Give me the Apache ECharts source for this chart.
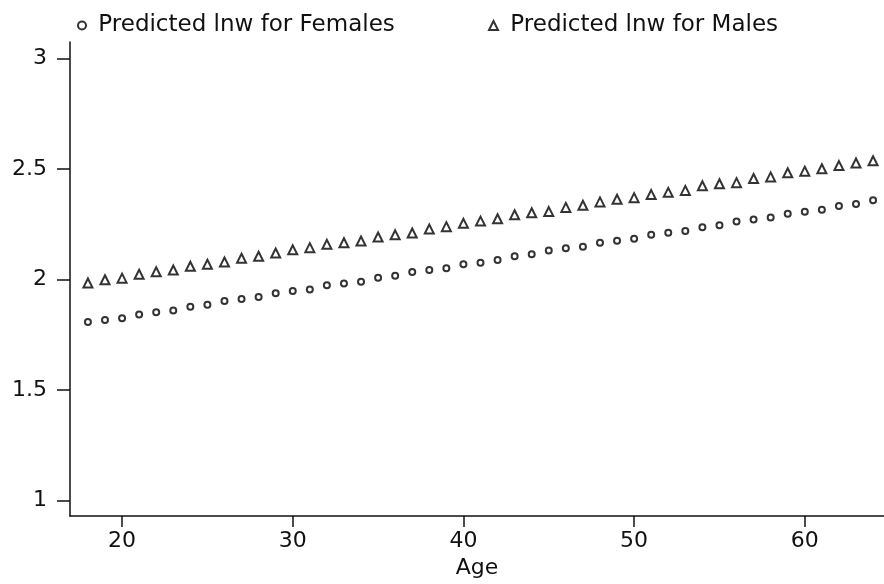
<!DOCTYPE html>
<html>
<head>
<meta charset="utf-8">
<script src="https://cdn.jsdelivr.net/npm/echarts@6/dist/echarts.min.js"></script>
<style>
html,body{margin:0;padding:0;background:#fff;}
#chart{width:884px;height:584px;}
</style>
</head>
<body>
<div id="chart"></div>
<script>
const ages = [18,19,20,21,22,23,24,25,26,27,28,29,30,31,32,33,34,35,36,37,38,39,40,41,42,43,44,45,46,47,48,49,50,51,52,53,54,55,56,57,58,59,60,61,62,63,64];
const femaleLnw = [1.808,1.817,1.825,1.842,1.852,1.860,1.877,1.886,1.903,1.912,1.921,1.938,1.948,1.955,1.974,1.982,1.990,2.008,2.017,2.034,2.043,2.051,2.069,2.076,2.088,2.105,2.114,2.131,2.141,2.148,2.166,2.175,2.184,2.202,2.211,2.219,2.236,2.245,2.262,2.271,2.280,2.297,2.306,2.315,2.332,2.341,2.358];
const maleLnw = [1.984,1.999,2.006,2.024,2.035,2.043,2.060,2.069,2.079,2.096,2.105,2.120,2.134,2.144,2.159,2.166,2.174,2.192,2.202,2.210,2.228,2.239,2.254,2.264,2.275,2.293,2.302,2.307,2.326,2.336,2.351,2.363,2.370,2.384,2.394,2.403,2.424,2.433,2.438,2.457,2.464,2.483,2.490,2.501,2.515,2.527,2.537];
const xTicks = [20,30,40,50,60];
const yTicks = [1,1.5,2,2.5,3];
const seriesNames = ['Predicted lnw for Females','Predicted lnw for Males'];
const xTitle = 'Age';

const FONT = 'DejaVu Sans';
const INK = '#111';
const MARK = '#000';

const chart = echarts.init(document.getElementById('chart'), null, {renderer:'canvas'});
const legendBase = {
  orient:'horizontal', top:9, itemWidth:8, itemHeight:8,
  textStyle:{fontFamily:FONT, fontSize:23, color:INK, lineHeight:22},
  formatter: n => ' ' + n,
  selectedMode:false
};
chart.setOption({
  animation:false,
  backgroundColor:'#fff',
  legend:[
    Object.assign({}, legendBase, {data:[seriesNames[0]], left:72}),
    Object.assign({}, legendBase, {data:[seriesNames[1]], left:483, itemWidth:9, itemHeight:9})
  ],
  grid:{left:70, right:0, top:42, bottom:51, containLabel:false},
  xAxis:{
    type:'value', min:16.95, max:64.64,
    name:xTitle, nameLocation:'middle', nameGap:36,
    nameTextStyle:{fontFamily:FONT, fontSize:22, color:INK},
    axisLine:{show:true, onZero:false, lineStyle:{color:INK, width:1.5}},
    axisTick:{show:true, length:11, customValues:xTicks, lineStyle:{color:INK, width:1.5}},
    axisLabel:{customValues:xTicks, fontFamily:FONT, fontSize:22, color:INK, margin:14},
    splitLine:{show:false}
  },
  yAxis:{
    type:'value', min:0.93, max:3.074,
    axisLine:{show:true, onZero:false, lineStyle:{color:INK, width:1.5}},
    axisTick:{show:true, length:13, customValues:yTicks, lineStyle:{color:INK, width:1.5}},
    axisLabel:{customValues:yTicks, fontFamily:FONT, fontSize:22, color:INK, margin:23,
      formatter:v=>String(v)},
    splitLine:{show:false}
  },
  series:[
    {
      name:seriesNames[0], type:'scatter', symbol:'emptyCircle', symbolSize:6,
      itemStyle:{color:MARK, borderColor:MARK, borderWidth:1.7},
      data:ages.map((a,i)=>[a,femaleLnw[i]])
    },
    {
      name:seriesNames[1], type:'scatter', symbol:'emptyTriangle', symbolSize:[9,9],
      itemStyle:{color:MARK, borderColor:MARK, borderWidth:1.9},
      data:ages.map((a,i)=>[a,maleLnw[i]])
    }
  ]
});
</script>
</body>
</html>
